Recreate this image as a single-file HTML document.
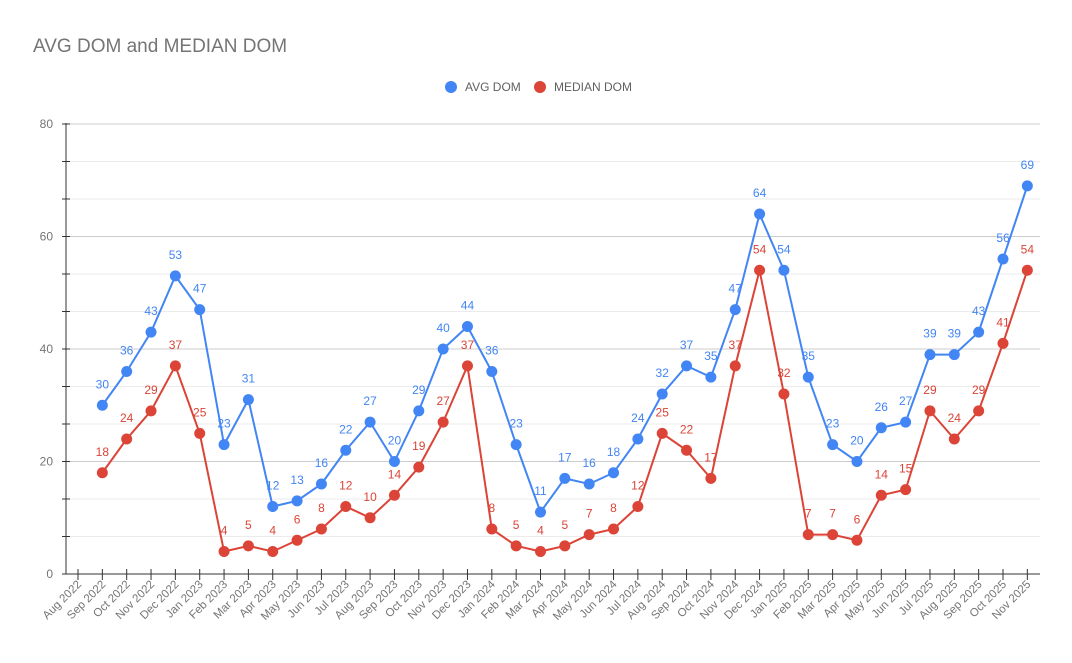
<!DOCTYPE html>
<html><head><meta charset="utf-8"><style>
body{margin:0;background:#fff}
svg{display:block;font-family:"Liberation Sans",Arial,sans-serif}
</style></head><body>
<svg id="c" width="1072" height="663" xmlns="http://www.w3.org/2000/svg"></svg>
<script>
const avg=[30,36,43,53,47,23,31,12,13,16,22,27,20,29,40,44,36,23,11,17,16,18,24,32,37,35,47,64,54,35,23,20,26,27,39,39,43,56,69];
const med=[18,24,29,37,25,4,5,4,6,8,12,10,14,19,27,37,8,5,4,5,7,8,12,25,22,17,37,54,32,7,7,6,14,15,29,24,29,41,54];
const mon=["Jan","Feb","Mar","Apr","May","Jun","Jul","Aug","Sep","Oct","Nov","Dec"];
const X0=78,DX=24.342,Y0=574,K=5.625;
const X=i=>X0+i*DX, Y=v=>Y0-v*K;
let s='';
s+='<text x="33" y="52" font-size="19" fill="#757575">AVG DOM and MEDIAN DOM</text>';
s+='<circle cx="451" cy="87" r="6" fill="#4285F4"/><text x="465" y="91" font-size="12" fill="#616161">AVG DOM</text>';
s+='<circle cx="540" cy="87" r="6" fill="#DB4437"/><text x="554" y="91" font-size="12" fill="#616161">MEDIAN DOM</text>';
for(let j=0;j<=12;j++){const y=Y0-j*37.5;const major=j%3==0;
 if(j>0)s+=`<line x1="70" x2="1040" y1="${y}" y2="${y}" stroke="${major?'#ccc':'#ebebeb'}" stroke-width="1"/>`;
 s+=`<line x1="62" x2="70" y1="${y}" y2="${y}" stroke="#333"/>`;
 if(major)s+=`<text x="53" y="${y+4}" font-size="12" fill="#757575" text-anchor="end">${j/3*20}</text>`;}
s+=`<line x1="66" x2="66" y1="123" y2="574" stroke="#333"/>`;
s+=`<line x1="62" x2="1040" y1="574" y2="574" stroke="#333"/>`;
for(let i=0;i<40;i++){const x=X(i);const m=(7+i)%12;const yr=2022+Math.floor((7+i)/12);
 s+=`<line x1="${x}" x2="${x}" y1="569" y2="580" stroke="#333"/>`;
 s+=`<text transform="translate(${x+4},585) rotate(-45)" font-size="11.5" fill="#757575" text-anchor="end">${mon[m]} ${yr}</text>`;}
function ser(d,c){let p=d.map((v,i)=>X(i+1)+','+Y(v)).join(' ');
 s+=`<polyline points="${p}" fill="none" stroke="${c}" stroke-width="2"/>`;
 d.forEach((v,i)=>{s+=`<circle cx="${X(i+1)}" cy="${Y(v)}" r="5.5" fill="${c}"/>`;
 s+=`<text x="${X(i+1)}" y="${Y(v)-17}" font-size="12" fill="${c}" text-anchor="middle">${v}</text>`;});}
ser(avg,'#4285F4');ser(med,'#DB4437');
document.getElementById('c').innerHTML=s;
</script>
</body></html>
